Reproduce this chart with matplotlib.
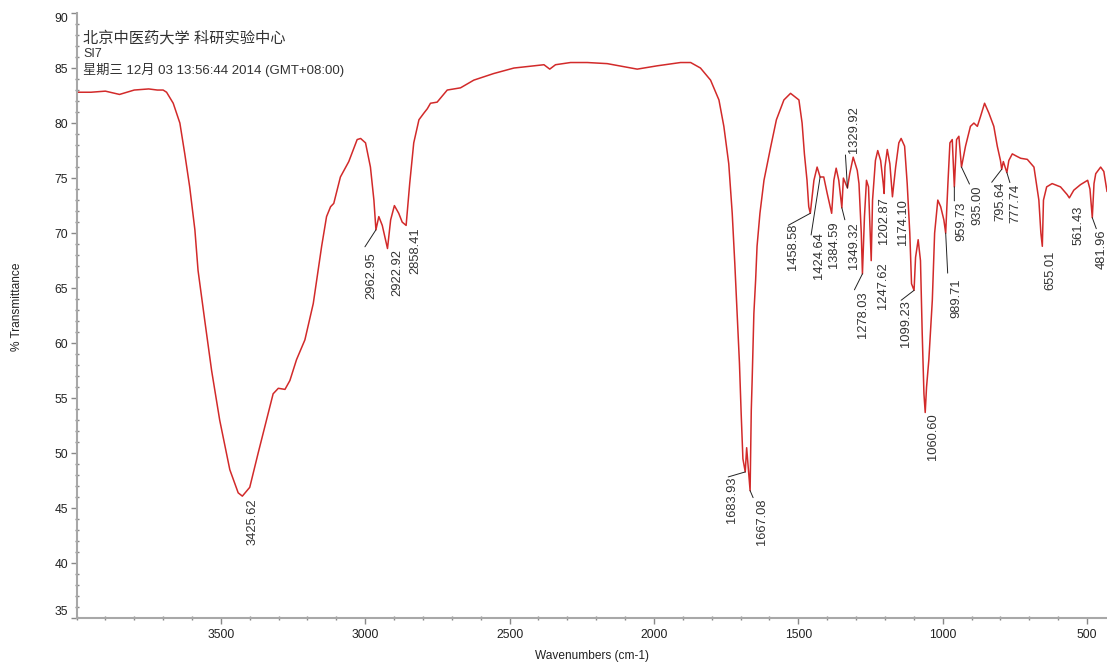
import numpy as np
import matplotlib
matplotlib.use("Agg")
import matplotlib.pyplot as plt
from matplotlib.ticker import MultipleLocator

plt.rcParams['font.family'] = ['Liberation Sans', 'Noto Sans CJK SC', 'DejaVu Sans']

# traced spectrum: wavenumber (cm-1) and %T
wavenumber = [4000, 3950, 3900, 3851, 3800, 3750, 3720, 3700, 3688, 3665, 3642,
              3625, 3608, 3590, 3579, 3556, 3532, 3504, 3469, 3440, 3425.62, 3400,
              3371, 3342, 3319, 3301, 3278, 3261, 3238, 3209, 3180, 3151, 3134,
              3120, 3109, 3086, 3057, 3028, 3016, 2999, 2982, 2970, 2962.95, 2953,
              2941, 2922.92, 2912, 2899, 2884, 2872, 2858.41, 2846, 2832, 2814,
              2797, 2785, 2774, 2751, 2716, 2670, 2624, 2555, 2485, 2381, 2361,
              2341, 2289, 2231, 2162, 2058, 1989, 1908, 1873, 1839, 1804, 1775,
              1758, 1741, 1729, 1720, 1712, 1704, 1698, 1692, 1683.93, 1679, 1673,
              1667.08, 1663, 1660, 1654, 1648, 1643, 1633, 1619, 1596, 1576, 1550,
              1527, 1498, 1487, 1479, 1470, 1464, 1458.58, 1446, 1435, 1424.64,
              1412, 1400, 1384.59, 1377, 1369, 1360, 1349.32, 1344, 1329.92, 1322,
              1310, 1296, 1290, 1282, 1278.03, 1271, 1264, 1257, 1247.62, 1243,
              1233, 1225, 1215, 1206, 1202.87, 1200, 1192, 1183, 1174.10, 1163,
              1152, 1144, 1132, 1123, 1114, 1108, 1099.23, 1094, 1085, 1077, 1071,
              1065, 1060.60, 1056, 1048, 1036, 1028, 1017, 1007, 996, 989.71, 982,
              975, 967, 959.73, 952, 944, 935.00, 921, 904, 892, 880, 869, 855,
              840, 823, 811, 800, 795.64, 790, 777.74, 771, 759, 745, 730, 707,
              684, 667, 660, 655.01, 651, 640, 621, 592, 569, 561.43, 546, 523,
              498, 490, 481.96, 476, 470, 453, 442, 431]
transmittance = [82.8, 82.8, 82.9, 82.6, 83.0, 83.1, 83.0, 83.0, 82.8, 81.8, 80.0,
                 77.2, 74.2, 70.3, 66.6, 62.1, 57.5, 53.0, 48.5, 46.4, 46.1, 46.9,
                 50.0, 53.0, 55.4, 55.9, 55.8, 56.6, 58.5, 60.3, 63.6, 68.8, 71.5,
                 72.4, 72.7, 75.1, 76.5, 78.5, 78.6, 78.2, 76.0, 73.0, 70.3, 71.5,
                 70.7, 68.6, 71.2, 72.5, 71.8, 71.0, 70.7, 74.5, 78.2, 80.3,
                 80.9, 81.3, 81.8, 81.9, 83.0, 83.2, 83.9, 84.5, 85.0, 85.3, 84.9,
                 85.3, 85.5, 85.5, 85.4, 84.9, 85.2, 85.5, 85.5, 85.0, 83.9, 82.1,
                 79.7, 76.3, 71.8, 67.2, 62.7, 58.2, 53.6, 49.5, 48.3, 50.5, 48.5,
                 46.6, 53.9, 56.6, 62.7, 65.7, 68.8, 71.8, 74.8, 77.8, 80.3, 82.1,
                 82.7, 82.1, 80.0, 77.2, 74.8, 72.4, 71.8, 74.8, 76.0, 75.1,
                 75.1, 73.6, 71.8, 74.8, 75.9, 74.8, 72.3, 75.0, 74.1, 75.4,
                 76.9, 75.7, 74.5, 70.0, 66.3, 71.5, 74.8, 74.2, 67.5, 73.0,
                 76.6, 77.5, 76.6, 74.5, 73.6, 76.0, 77.6, 76.3, 73.3, 76.0,
                 78.2, 78.6, 77.9, 74.5, 70.0, 65.4, 64.8, 67.8, 69.4, 67.5, 60.9,
                 55.4, 53.7, 56.0, 58.5, 63.9, 70.0, 73.0, 72.4, 71.2, 70.0, 74.5,
                 78.2, 78.5, 74.2, 78.5, 78.8, 76.0, 77.9, 79.7, 80.0, 79.7, 80.6, 81.8,
                 80.9, 79.7, 77.9, 76.6, 75.8, 76.5, 75.5, 76.6, 77.2, 77.0, 76.8, 76.7,
                 76.0, 73.0, 70.0, 68.8, 73.0, 74.2, 74.5, 74.2, 73.5, 73.2, 73.9, 74.4,
                 74.8, 74.0, 71.4, 74.5, 75.4, 76.0, 75.6, 73.8]

peaks = ['3425.62', '2962.95', '2922.92', '2858.41', '1683.93', '1667.08',
         '1458.58', '1424.64', '1384.59', '1349.32', '1329.92', '1278.03',
         '1247.62', '1202.87', '1174.10', '1099.23', '1060.60', '989.71',
         '959.73', '935.00', '795.64', '777.74', '655.01', '561.43', '481.96']

header = ['北京中医药大学 科研实验中心', 'SI7', '星期三 12月 03 13:56:44 2014 (GMT+08:00)']

xticks = [3500, 3000, 2500, 2000, 1500, 1000, 500]
yticks = [35, 40, 45, 50, 55, 60, 65, 70, 75, 80, 85, 90]

# label layout, in image pixels relative to the peak (x right, y down)
# (text dx, text dy, connector end or None, label above curve)
label_layout = {
    '3425.62': (10, 2, None, False),
    '2962.95': (-5, 22, (-11, 17), False),
    '2922.92': (10, 0, None, False),
    '2858.41': (9, 2, None, False),
    '1683.93': (-13, 5, (-17, 5), False),
    '1667.08': (12, 8, (3, 7), False),
    '1458.58': (-17, 10, (-22, 12), False),
    '1424.64': (-1, 55, (-9, 58), False),
    '1384.59': (2, 8, None, False),
    '1349.32': (12, 14, (3, 12), False),
    '1329.92': (7, -35, (-2, -33), True),
    '1278.03': (1, 18, (-8, 16), False),
    '1247.62': (12, 2, None, False),
    '1202.87': (0, 4, None, False),
    '1174.10': (11, 2, None, False),
    '1099.23': (-8, 10, (-13, 10), False),
    '1060.60': (8, 1, None, False),
    '989.71': (11, 45, (2, 40), False),
    '959.73': (7, 15, (0, 14), False),
    '935.00': (16, 18, (8, 17), False),
    '795.64': (-1, 12, (-10, 13), False),
    '777.74': (9, 11, (3, 10), False),
    '655.01': (8, 4, None, False),
    '561.43': (9, 8, None, False),
    '481.96': (9, 12, (4, 11), False),
}

wn = np.array(wavenumber)
tr = np.array(transmittance)

fig = plt.figure(figsize=(11.07, 6.64), dpi=100)
ax = fig.add_axes([76.5 / 1107, 1 - 618.3 / 664, 1 - 76.5 / 1107, (618.3 - 13) / 664])

ax.plot(wn, tr, color='#d22a2a', lw=1.1)
ax.set_xlim(4000, 431)
ax.set_ylim(35, 90)

for s in ['top', 'right']:
    ax.spines[s].set_visible(False)
for s in ['left', 'bottom']:
    ax.spines[s].set_color('#a8a8a8')
    ax.spines[s].set_linewidth(1.5)

ax.set_xticks(xticks)
ax.set_yticks(yticks)
ax.xaxis.set_minor_locator(MultipleLocator(100))
ax.yaxis.set_minor_locator(MultipleLocator(1))
ax.tick_params(which='major', direction='out', length=4, width=1, color='#888888',
               labelsize=8.7, labelcolor='#222222', pad=2)
ax.tick_params(which='minor', direction='inout', length=2.5, width=1, color='#888888')
ax.tick_params(axis='x', which='major', pad=4)

# end labels sit inside the axis range, like the original
ytk = ax.yaxis.get_major_ticks()
ytk[0].label1.set_va('bottom')
ytk[-1].label1.set_va('top')

ax.set_xlabel('Wavenumbers (cm-1)', fontsize=8.6, color='#222222', labelpad=6)
ax.set_ylabel('% Transmittance', fontsize=8.6, color='#222222')
ax.yaxis.set_label_coords((23.5 - 76.5) / 1030.5, (618.3 - 306.7) / 605.3)

# header text
fig.text(83 / 1107, 1 - 38 / 664, header[0], fontsize=11, color='#333333', va='center')
fig.text(83 / 1107, 1 - 54 / 664, header[1], fontsize=9, color='#333333', va='center')
fig.text(83 / 1107, 1 - 70 / 664, header[2], fontsize=9.5, color='#333333', va='center')

# peak labels
for p in peaks:
    x0 = float(p)
    y0 = np.interp(x0, wn[::-1], tr[::-1])
    dx, dy, line, above = label_layout[p]
    ax.annotate(p, xy=(x0, y0), xytext=(dx, -dy), textcoords='offset pixels',
                rotation=90, ha='center', va='bottom' if above else 'top',
                fontsize=9.3, color='#333333', annotation_clip=False)
    if line is not None:
        ax.annotate('', xy=(x0, y0), xytext=(line[0], -line[1]), textcoords='offset pixels',
                    arrowprops=dict(arrowstyle='-', lw=0.7, color='#222222',
                                    shrinkA=0, shrinkB=0))

fig.savefig('out.png', dpi=100)
